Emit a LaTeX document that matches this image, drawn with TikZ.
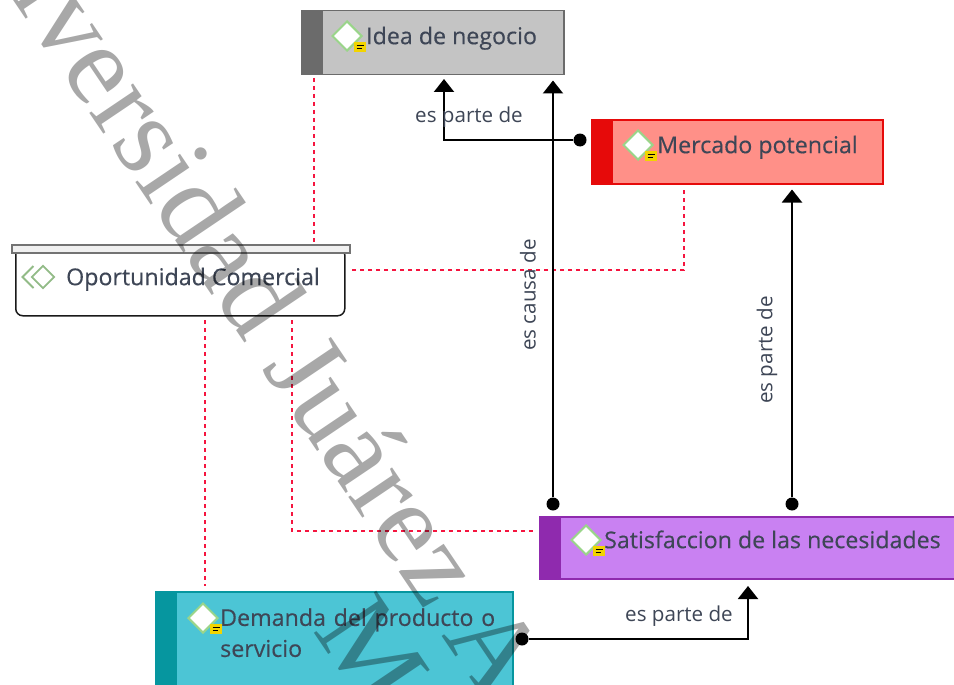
\documentclass[tikz,border=0pt]{standalone}
\usepackage{fontspec}
\setmainfont{Open Sans}
\newfontfamily\namefont[FakeBold=0.35]{Open Sans}
\newfontfamily\markfont{Liberation Serif}
\usetikzlibrary{arrows.meta, shapes.geometric, calc}

\tikzset{
  taskbox/.style 2 args={draw=#2, fill=#1, line width=1.5pt, inner sep=0pt, anchor=north west,
    path picture={\fill[#2] (path picture bounding box.north west) rectangle
      ([xshift=21pt]path picture bounding box.south west);}},
  taskname/.style={anchor=west, inner sep=0pt, text=textdark, font=\namefont\fontsize{23.2}{31}\selectfont\strut, align=left},
  gem/.style={diamond, draw=gemgreen, fill=white, line width=2pt, minimum width=30pt, minimum height=30pt, inner sep=0pt},
  notebadge/.style={fill=noteyellow, minimum width=12pt, minimum height=10pt, inner sep=0pt},
  relname/.style={inner sep=0pt, text=textdark, font=\fontsize{20.6}{24}\selectfont},
  relline/.style={draw=black, line width=2.1pt, shorten >=5pt, -{Triangle[width=20pt,length=13pt]}},
  enddot/.style={circle, fill=black, minimum size=13pt, inner sep=0pt},
  linkline/.style={draw=linkred, line width=2.4pt, dash pattern=on 4pt off 4pt},
  wmark/.style={anchor=base west, inner sep=0pt, rotate=-56, text=black, text opacity=.34,
    font=\markfont\fontsize{115}{115}\selectfont}
}
\definecolor{textdark}{HTML}{3E4656}
\definecolor{gemgreen}{HTML}{9AD58A}
\definecolor{noteyellow}{HTML}{F2D400}
\definecolor{linkred}{HTML}{F5153F}
\definecolor{ideafill}{HTML}{C4C4C4}
\definecolor{ideaband}{HTML}{6B6B6B}
\definecolor{mercfill}{HTML}{FF9088}
\definecolor{mercband}{HTML}{E60A0A}
\definecolor{satisfill}{HTML}{C981F2}
\definecolor{satisband}{HTML}{8F2AAE}
\definecolor{demfill}{HTML}{4CC5D5}
\definecolor{demband}{HTML}{06969F}

% badge with two lines, next to each diamond
\newcommand{\gemicon}[3]{
  \node[gem] (#1gem) at (#2,#3) {};
  \node[notebadge] (#1note) at ($(#1gem)+(13,11)$) {};
  \draw[black, line width=1.2pt] ([xshift=-3.5pt,yshift=1.5pt]#1note.center) -- ([xshift=3.5pt,yshift=1.5pt]#1note.center);
  \draw[black, line width=1.2pt] ([xshift=-3.5pt,yshift=-1.5pt]#1note.center) -- ([xshift=1.5pt,yshift=-1.5pt]#1note.center);
}

\begin{document}
\begin{tikzpicture}[x=1pt, y=-1pt]
  \useasboundingbox (0,0) rectangle (954,685);
  \clip (0,0) rectangle (954,685);
  \fill[white] (0,0) rectangle (954,685);

  % boxes
  \node[taskbox={ideafill}{ideaband}, minimum width=262pt, minimum height=64pt] (idea) at (301,10) {};
    \gemicon{idea}{347}{36}
    \node[taskname] (ideatext) at (366,38) {Idea de negocio};
  \node[taskbox={mercfill}{mercband}, minimum width=291pt, minimum height=64pt] (merc) at (591,119) {};
    \gemicon{merc}{638}{145}
    \node[taskname] (merctext) at (657,147) {Mercado potencial};
  \node[taskbox={satisfill}{satisband}, minimum width=430pt, minimum height=62pt] (satis) at (539,516) {};
    \gemicon{satis}{586}{540}
    \node[taskname] (satistext) at (604,542) {Satisfaccion de las necesidades};
  \node[taskbox={demfill}{demband}, minimum width=357pt, minimum height=110pt] (dem) at (155,591) {};
    \gemicon{dem}{203}{618}
    \node[taskname, anchor=north west, text width=280pt] (demtext) at (220,604) {Demanda del producto o\\ servicio};

  % group box with its lid
  \node[draw=black!90, fill=white, line width=1.5pt, rounded corners=7pt, inner sep=0pt, anchor=north west,
    minimum width=329pt, minimum height=68pt] (oport) at (15,247) {};
  \node[draw=black!55, fill=black!6, line width=1.5pt, inner sep=0pt, anchor=north west,
    minimum width=338pt, minimum height=8pt] (oportlid) at (11,244) {};
  \node[diamond, draw=gemgreen!70!gray, line width=1.8pt, minimum width=23pt, minimum height=23pt, inner sep=0pt] (oportgem) at (43,277) {};
  \draw[gemgreen!70!gray, line width=1.8pt] (33.5,266) -- (22.5,277) -- (33.5,288);
  \node[taskname] (oporttext) at (66,279) {Oportunidad Comercial};

  % dashed links
  \coordinate (idealow) at (314,78);
  \coordinate (oporttop) at (314,242);
  \draw[linkline] (idealow) -- (oporttop);
  \coordinate (merclow) at (684,190);
  \coordinate (oportright) at (352,270);
  \draw[linkline] (merclow) |- (oportright);
  \coordinate (oportleg) at (205,320);
  \coordinate (demtop) at (205,586);
  \draw[linkline] (oportleg) -- (demtop);
  \coordinate (oportlegb) at (292,320);
  \coordinate (satisleft) at (535,531);
  \draw[linkline] (oportlegb) |- (satisleft);

  % relations
  \node[enddot] (dotmerc) at (580,140) {};
  \node[enddot] (dotcausa) at (553,504) {};
  \node[enddot] (dotparte) at (792,504) {};
  \node[enddot] (dotdem) at (522,639) {};
  \coordinate (ideain) at (444,74);
  \coordinate (satisin) at (748,581);
  \draw[relline] (dotmerc) -| (ideain);
  \draw[relline] (dotcausa) -- (dotcausa |- idea.south);
  \draw[relline] (dotparte) -- (dotparte |- merc.south);
  \draw[relline] (dotdem) -| (satisin);
  \node[relname] (relidea) at (469,117) {es parte de};
  \node[relname, rotate=90] (relcausa) at (528,295) {es causa de};
  \node[relname, rotate=90] (relmerc) at (767,350) {es parte de};
  \node[relname] (relsatis) at (679,616) {es parte de};

  % watermark
  \node[wmark] (markone) at (-69,-122) {Universidad Juárez A};
  \node[wmark] (marktwo) at (312,630) {Mé};
\end{tikzpicture}
\end{document}
